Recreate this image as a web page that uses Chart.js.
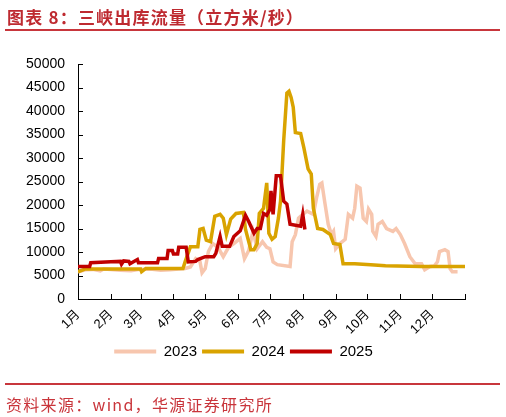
<!DOCTYPE html>
<html>
<head>
<meta charset="utf-8">
<script src="https://cdn.jsdelivr.net/npm/chart.js@4.4.1/dist/chart.umd.min.js"></script>
<style>
  body { margin: 0; background: #fff; width: 506px; height: 417px; overflow: hidden; position: relative; }
  #titre { position: absolute; left: 7px; top: 4px; font: bold 17px "Noto Sans CJK SC", sans-serif; color: #BE2A30; letter-spacing: 1.2px; white-space: nowrap; }
  .regle { position: absolute; left: 5px; width: 495px; height: 2px; background: #C8363C; }
  #source { position: absolute; left: 6px; top: 392px; font: 16px "Noto Sans CJK SC", sans-serif; color: #C9353B; letter-spacing: 1.3px; white-space: nowrap; }
  #zone { position: absolute; left: 0; top: 0; width: 506px; height: 417px; }
</style>
</head>
<body>
<div id="zone"><canvas id="canvasDebit"></canvas></div>
<div id="titre">图表 8：三峡出库流量（立方米/秒）</div>
<div class="regle" style="top:29px"></div>
<div class="regle" style="top:383px"></div>
<div id="source">资料来源：wind，华源证券研究所</div>
<script>
// jour de l'année (0 = 1er janvier) pour le début de chaque mois
const debutMois = [0, 31, 59, 90, 120, 151, 181, 212, 243, 273, 304, 334, 365]
const listeMois = ["1月", "2月", "3月", "4月", "5月", "6月", "7月", "8月", "9月", "10月", "11月", "12月"]
const ticksY = [0, 5000, 10000, 15000, 20000, 25000, 30000, 35000, 40000, 45000, 50000]

// 2023 : jours et débits
const jours2023 = [0, 7, 14, 21, 24, 31, 40, 50, 58, 68, 78, 87, 95, 101, 106, 111, 115, 117, 120, 123, 127, 132, 137, 142, 147, 153, 157, 161, 165, 169, 174, 178, 181, 184, 188, 200, 202, 205, 208, 212, 216, 222, 225, 228, 230, 233, 236, 239, 241, 243, 247, 252, 255, 259, 261, 263, 266, 269, 272, 274, 277, 278, 281, 283, 287, 291, 297, 300, 304, 308, 313, 318, 324, 327, 332, 336, 339, 341, 346, 349, 351, 353, 358]
const debit2023 = [5800, 6200, 6300, 6000, 6400, 6300, 6100, 6000, 6300, 6400, 6100, 6200, 6400, 6500, 6800, 8600, 8000, 5600, 6500, 10100, 11800, 11000, 9000, 11000, 11800, 12900, 8600, 10300, 14400, 10700, 12200, 11000, 10700, 7900, 7300, 6900, 12200, 13700, 17200, 18000, 18700, 18000, 21500, 24400, 24700, 20200, 15900, 13700, 14400, 10700, 11800, 12700, 18000, 17200, 19300, 24000, 23600, 17200, 16500, 19100, 18000, 14400, 13300, 15900, 16500, 15000, 14400, 15000, 13700, 11800, 9000, 7500, 7500, 6200, 6900, 7000, 7900, 10100, 10500, 10100, 6400, 5800, 5800]

// 2024
const jours2024 = [0, 7, 30, 59, 60, 64, 99, 101, 106, 113, 115, 118, 121, 125, 129, 134, 137, 140, 144, 149, 156, 158, 163, 166, 169, 171, 175, 178, 180, 183, 186, 189, 191, 194, 197, 199, 201, 203, 205, 210, 213, 217, 220, 222, 226, 231, 238, 241, 247, 250, 261, 276, 290, 323, 365]
const debit2024 = [5800, 6400, 6400, 6400, 5800, 6500, 6500, 7900, 11100, 11100, 14800, 15000, 12500, 12200, 17600, 18000, 17200, 13700, 17000, 18200, 18400, 14800, 10500, 10500, 11800, 18200, 19300, 24700, 14000, 12700, 13300, 17200, 20800, 33700, 43800, 44200, 42900, 40800, 35400, 35200, 32200, 27700, 26600, 19300, 15000, 14800, 13700, 11800, 11600, 7500, 7500, 7300, 7100, 6900, 6900]

// 2025
const jours2025 = [0, 11, 12, 31, 40, 41, 43, 48, 49, 56, 57, 75, 76, 84, 85, 89, 90, 94, 95, 102, 104, 111, 113, 120, 128, 130, 134, 136, 143, 147, 153, 158, 161, 166, 169, 172, 175, 178, 181, 182, 184, 187, 191, 194, 197, 200, 210, 212, 214]
const debit2025 = [6900, 6900, 7700, 7900, 8000, 7400, 8100, 8000, 7500, 8400, 7700, 7700, 8600, 8600, 10300, 10300, 9600, 9600, 11000, 11000, 7900, 8000, 8400, 9000, 9000, 9700, 13300, 11200, 11200, 13300, 14500, 17800, 16500, 14000, 15000, 15000, 18200, 17800, 19100, 23000, 18000, 26200, 26200, 20800, 20200, 15900, 15500, 18000, 14800]

function versPoints(jours, debits) {
    return jours.map((j, i) => ({x: j, y: debits[i]}))
}

// petites graduations tournées vers l'intérieur, comme sur l'original
const graduationsInterieures = {
    id: 'graduationsInterieures',
    afterDraw(chart) {
        let ctx = chart.ctx
        let sx = chart.scales.x
        let sy = chart.scales.y
        ctx.save()
        ctx.strokeStyle = '#000'
        ctx.lineWidth = 1
        ctx.beginPath()
        for (let j of debutMois) {
            let px = Math.round(sx.getPixelForValue(j)) + 0.5
            ctx.moveTo(px, sy.bottom)
            ctx.lineTo(px, sy.bottom - 5)
        }
        for (let v of ticksY) {
            let py = Math.round(sy.getPixelForValue(v)) + 0.5
            ctx.moveTo(sx.left, py)
            ctx.lineTo(sx.left + 5, py)
        }
        ctx.stroke()
        ctx.restore()
    }
}

const couleurs = ["#F7C6AE", "#D9A300", "#C00000"]

new Chart(document.getElementById("canvasDebit"), {
    type: 'line',
    data: {
        datasets: [
            {
                label: '2023',
                data: versPoints(jours2023, debit2023),
                borderColor: couleurs[0],
                backgroundColor: couleurs[0],
                borderWidth: 3.5,
                pointRadius: 0,
                tension: 0,
                order: 3
            },
            {
                label: '2024',
                data: versPoints(jours2024, debit2024),
                borderColor: couleurs[1],
                backgroundColor: couleurs[1],
                borderWidth: 3.5,
                pointRadius: 0,
                tension: 0,
                order: 2
            },
            {
                label: '2025',
                data: versPoints(jours2025, debit2025),
                borderColor: couleurs[2],
                backgroundColor: couleurs[2],
                borderWidth: 3.5,
                pointRadius: 0,
                tension: 0,
                order: 1
            }
        ]
    },
    options: {
        responsive: true,
        maintainAspectRatio: false,
        animation: false,
        layout: {
            padding: {left: 22, right: 41, top: 64, bottom: 48}
        },
        scales: {
            x: {
                type: 'linear',
                min: 0,
                max: 365,
                afterBuildTicks: function(scale) {
                    scale.ticks = debutMois.map(v => ({value: v}))
                },
                afterFit: function(scale) {
                    scale.height = 40
                },
                grid: {display: true, drawOnChartArea: false, drawTicks: false},
                border: {display: true, color: '#000', width: 1},
                ticks: {
                    autoSkip: false,
                    minRotation: 45,
                    maxRotation: 45,
                    padding: 8,
                    color: '#000',
                    font: {size: 13, family: '"Liberation Sans", "Noto Sans CJK SC", sans-serif'},
                    callback: function(value, index) {
                        return listeMois[index] || ''
                    }
                }
            },
            y: {
                min: 0,
                max: 50000,
                afterBuildTicks: function(scale) {
                    scale.ticks = ticksY.map(v => ({value: v}))
                },
                afterFit: function(scale) {
                    scale.width = 56
                },
                grid: {display: true, drawOnChartArea: false, drawTicks: false},
                border: {display: true, color: '#000', width: 1},
                ticks: {
                    padding: 13,
                    color: '#000',
                    font: {size: 14, family: '"Liberation Sans", sans-serif'},
                    callback: function(value) {
                        return String(value)
                    }
                }
            }
        },
        plugins: {
            legend: {
                display: true,
                position: 'bottom',
                labels: {
                    boxWidth: 42,
                    boxHeight: 4,
                    padding: 5,
                    color: '#000',
                    font: {size: 15, family: '"Liberation Sans", sans-serif'},
                    generateLabels: function(chart) {
                        return chart.data.datasets.map((ds, i) => ({
                            text: ds.label,
                            fillStyle: ds.borderColor,
                            strokeStyle: ds.borderColor,
                            lineWidth: 0,
                            hidden: false,
                            datasetIndex: i,
                            fontColor: '#000'
                        }))
                    }
                }
            },
            tooltip: {enabled: false}
        }
    },
    plugins: [graduationsInterieures]
})
</script>
</body>
</html>
